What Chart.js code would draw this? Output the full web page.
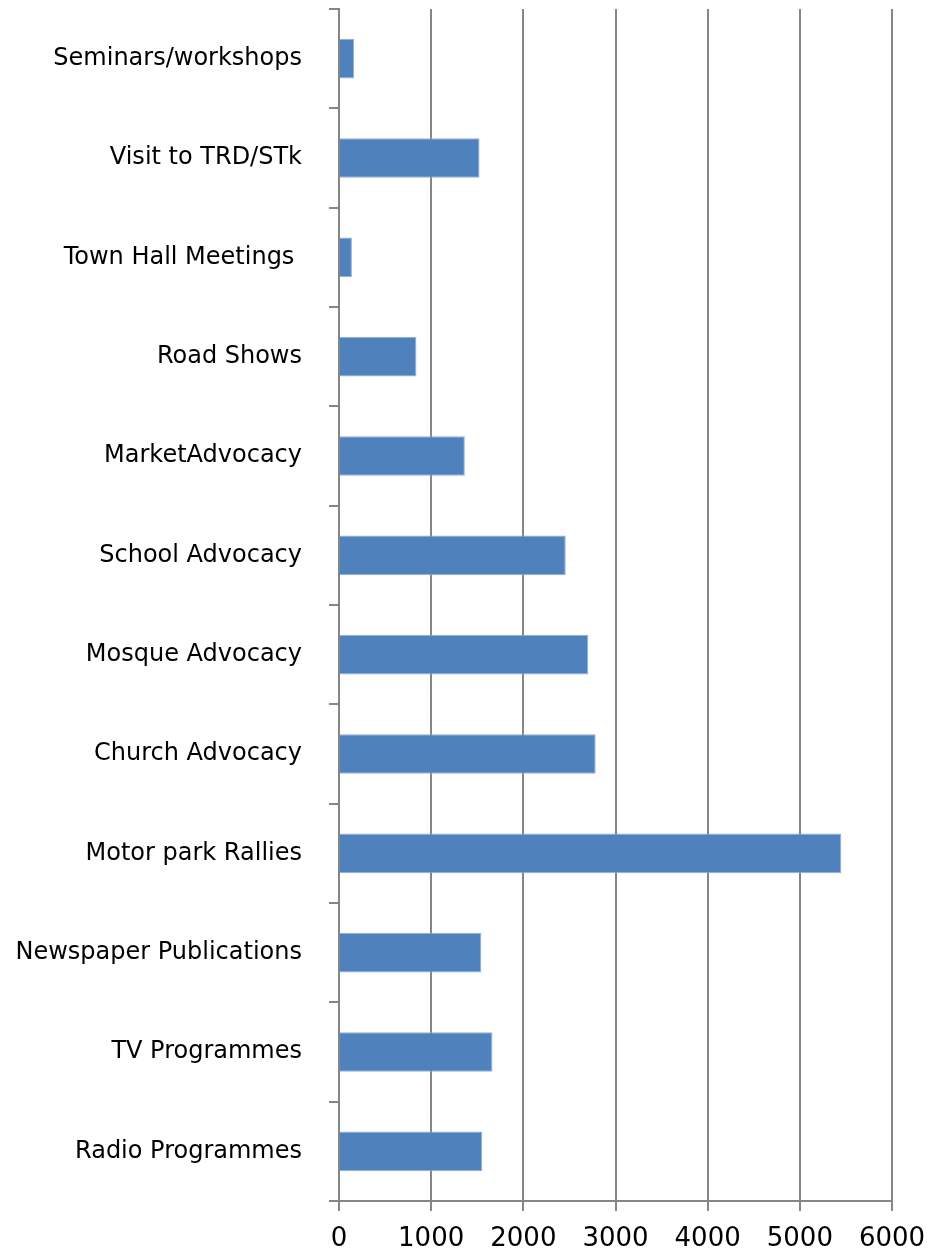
<html>
<head>
  <meta charset="utf-8">
  <script src="https://cdn.jsdelivr.net/npm/chart.js"></script>
  <style>
    body {
      margin: 0;
      padding: 0;
      background-color: #fff;
    }
    .chart-wrapper {
      width: 928px;
      height: 1255px;
    }
  </style>
</head>
<body>
  <div class="chart-wrapper">
    <canvas id="barChart"></canvas>
  </div>
  <script>
    // Activities, listed top to bottom as in the picture
    const categories = [
      'Seminars/workshops',
      'Visit to TRD/STk',
      'Town Hall Meetings ',
      'Road Shows',
      'MarketAdvocacy',
      'School Advocacy',
      'Mosque Advocacy',
      'Church Advocacy',
      'Motor park Rallies',
      'Newspaper Publications',
      'TV Programmes',
      'Radio Programmes'
    ];
    const values = [165, 1525, 140, 840, 1365, 2460, 2705, 2785, 5450, 1545, 1665, 1555];
    const xTicks = [0, 1000, 2000, 3000, 4000, 5000, 6000];

    const axisGrey = '#868686';
    const labelFont = "'Comic Sans MS', 'DejaVu Sans', sans-serif";

    // drop the extra room chart.js keeps for overhanging labels
    const noPadding = (scale) => {
      scale.paddingTop = 0;
      scale.paddingBottom = 0;
      scale.paddingLeft = 0;
      scale.paddingRight = 0;
    };

    document.addEventListener("DOMContentLoaded", function () {
      var ctx = document.getElementById('barChart').getContext('2d');

      new Chart(ctx, {
        type: 'bar',
        data: {
          labels: categories,
          datasets: [{
            data: values,
            backgroundColor: '#4F81BD',
            borderColor: '#8FB0D9',
            borderWidth: 1,
            barPercentage: 0.4,
            categoryPercentage: 1
          }]
        },
        options: {
          indexAxis: 'y',
          responsive: true,
          maintainAspectRatio: false,
          animation: false,
          layout: {
            padding: { top: 9, right: 36, left: 0, bottom: 0 }
          },
          scales: {
            x: {
              min: xTicks[0],
              max: xTicks[xTicks.length - 1],
              afterBuildTicks: (scale) => {
                scale.ticks = xTicks.map(v => ({ value: v }));
              },
              afterFit: (scale) => {
                scale.height = 54;
                noPadding(scale);
              },
              grid: {
                color: axisGrey,
                lineWidth: 2,
                tickLength: 10
              },
              border: { display: true, color: axisGrey, width: 2 },
              ticks: {
                padding: 13,
                color: '#000',
                font: { family: labelFont, size: 26 },
                maxRotation: 0,
                callback: (value) => String(value)
              }
            },
            y: {
              afterFit: (scale) => {
                scale.width = 339;
                noPadding(scale);
              },
              grid: {
                drawOnChartArea: false,
                drawTicks: true,
                offset: true,
                color: axisGrey,
                lineWidth: 2,
                tickLength: 10
              },
              border: { display: true, color: axisGrey, width: 2 },
              ticks: {
                padding: 27,
                color: '#000',
                font: { family: labelFont, size: 24 },
                autoSkip: false
              }
            }
          },
          plugins: {
            legend: { display: false },
            tooltip: { enabled: false }
          }
        }
      });
    });
  </script>
</body>
</html>
